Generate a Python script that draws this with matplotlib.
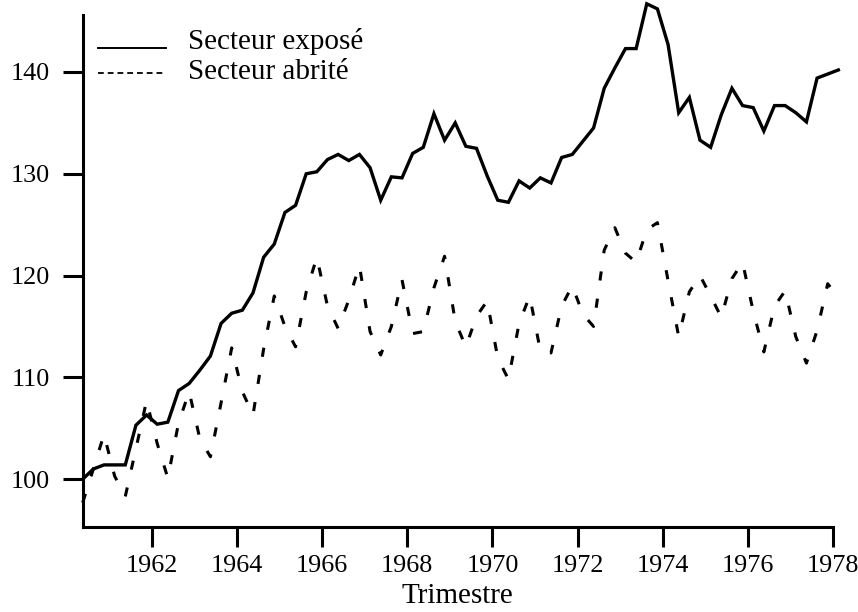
#!/usr/bin/env python3

"""
Indices trimestriels : secteur exposé / secteur abrité, 1960-1978.
Writes out.png
"""

import numpy as np
import matplotlib
matplotlib.use("Agg")
import matplotlib.pyplot as plt
from matplotlib.lines import Line2D
from matplotlib.legend_handler import HandlerLine2D

# first quarter shown : 1960 Q2, last : 1978 Q1
first_year = 1960
first_quarter = 2

expose = [100.0, 101.0, 101.4, 101.4, 101.4, 105.3, 106.3, 105.4,
          105.6, 108.7, 109.4, 110.7, 112.1, 115.3, 116.3, 116.6,
          118.3, 121.8, 123.1, 126.2, 126.9, 130.0, 130.2, 131.4,
          131.9, 131.3, 131.9, 130.6, 127.4, 129.7, 129.6, 132.0,
          132.6, 135.9, 133.3, 135.0, 132.7, 132.5, 129.8, 127.4,
          127.2, 129.3, 128.6, 129.6, 129.1, 131.6, 131.9, 133.2,
          134.5, 138.4, 140.4, 142.3, 142.3, 146.7, 146.2, 142.7,
          136.0, 137.5, 133.3, 132.6, 135.8, 138.4, 136.7, 136.5,
          134.2, 136.7, 136.7, 136.0, 135.1, 139.4, 139.8, 140.2]

abrite = [97.7, 101.0, 104.4, 100.3, 98.3, 103.0, 107.7, 103.5,
          100.1, 105.5, 108.6, 104.0, 102.2, 107.5, 112.9, 108.6,
          106.3, 112.8, 118.0, 115.0, 113.0, 118.4, 121.8, 117.0,
          114.8, 117.6, 121.0, 114.5, 112.2, 115.0, 119.6, 114.3,
          114.5, 118.8, 121.9, 115.5, 113.0, 116.0, 117.5, 111.9,
          109.8, 115.3, 118.0, 112.6, 112.4, 117.0, 119.0, 116.2,
          115.0, 122.5, 124.7, 122.2, 121.3, 124.5, 125.2, 119.5,
          114.0, 118.4, 120.0, 118.0, 115.9, 119.7, 121.3, 116.5,
          112.5, 117.0, 118.5, 114.0, 111.4, 114.6, 119.2, 117.8]

year_ticks = [1962, 1964, 1966, 1968, 1970, 1972, 1974, 1976, 1978]
value_ticks = [100, 110, 120, 130, 140]

labels = ["Secteur exposé", "Secteur abrité"]
xlabel = "Trimestre"


class LowLine(HandlerLine2D):
    """legend key drawn a bit below the middle of the row"""

    def __init__(self, drop, **kw):
        super().__init__(**kw)
        self.drop = drop

    def create_artists(self, legend, orig_handle, xdescent, ydescent,
                       width, height, fontsize, trans):
        arts = super().create_artists(legend, orig_handle, xdescent,
                                      ydescent, width, height, fontsize,
                                      trans)
        for a in arts:
            a.set_ydata(np.asarray(a.get_ydata()) - self.drop * fontsize)
        return arts


def main():
    plt.rcParams['font.family'] = ['Liberation Serif', 'DejaVu Serif']

    # quarters plotted at mid-quarter
    n = len(expose)
    q = np.arange(n) + (first_quarter - 1)
    t = first_year + (q + 0.5) / 4.0

    fig = plt.figure(figsize=(8.58, 6.12), dpi=100)
    ax = fig.add_axes([0.0964, 0.1389, 0.8745, 0.8366])

    ax.plot(t, expose, color='black', lw=2.4, solid_joinstyle='miter',
            clip_on=False)
    ax.plot(t, abrite, color='black', lw=2.2, dashes=(3.0, 6.0),
            clip_on=False)

    ax.set_xlim(t[0], 1978.0)
    ax.set_ylim(95.3, 145.6)

    for side in ['top', 'right']:
        ax.spines[side].set_visible(False)
    for side in ['left', 'bottom']:
        ax.spines[side].set_linewidth(2.2)

    ax.set_xticks(year_ticks)
    ax.set_yticks(value_ticks)
    ax.tick_params(axis='both', direction='out', length=14.5, width=2.2,
                   labelsize=18.8)
    ax.tick_params(axis='x', pad=6)
    ax.tick_params(axis='y', pad=9)

    ax.set_xlabel(xlabel, fontsize=21, labelpad=4)

    h_solid = Line2D([], [], color='black', lw=1.4)
    h_dash = Line2D([], [], color='black', lw=1.3, dashes=(3.2, 2.2))
    ax.legend([h_solid, h_dash], labels, loc='upper left',
              bbox_to_anchor=(0.02, 0.975), frameon=False, fontsize=21,
              handlelength=2.35, handletextpad=0.75, labelspacing=0.12,
              borderaxespad=0.0, borderpad=0.0,
              handler_map={h_solid: LowLine(0.31),
                           h_dash: LowLine(0.14)})

    fig.savefig('out.png', dpi=100)


if __name__ == '__main__':
    main()
